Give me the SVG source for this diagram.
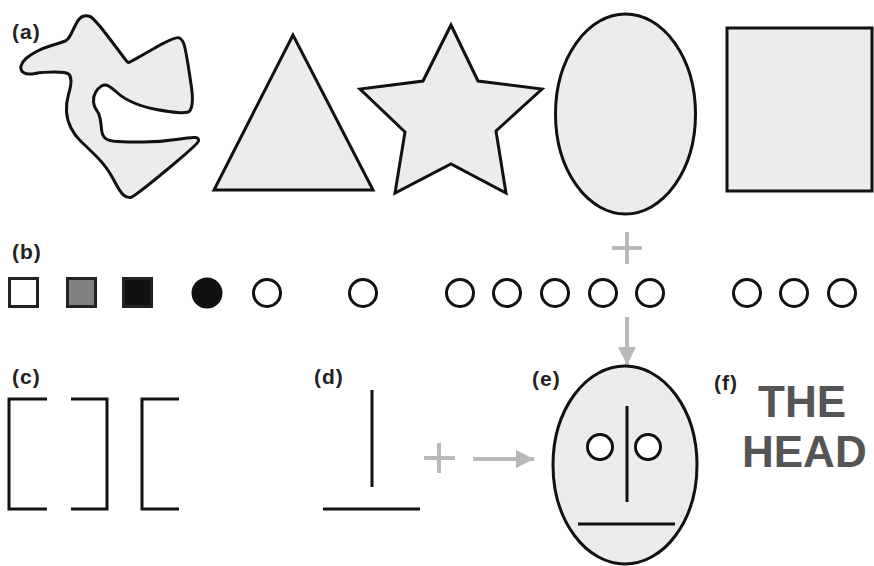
<svg xmlns="http://www.w3.org/2000/svg" width="874" height="566" viewBox="0 0 874 566">
<style>
.shape{fill:#ececec;stroke:#111;stroke-width:3;stroke-linejoin:miter}
.lbl{font-family:"Liberation Sans",Arial,sans-serif;font-weight:bold;font-size:21px;fill:#222;letter-spacing:1px}
.ring{fill:#fff;stroke:#111;stroke-width:3}
.ln{stroke:#111;stroke-width:3;fill:none}
.gray{stroke:#b9b9b9;stroke-width:4;fill:none}
.head{font-family:"Liberation Sans",Arial,sans-serif;font-weight:bold;font-size:44px;fill:#555}
</style>
<defs>
<marker id="ah" viewBox="0 0 10 10" refX="10" refY="5" markerWidth="6" markerHeight="4.5" markerUnits="strokeWidth" orient="auto">
<path d="M0,0 L10,5 L0,10 Z" fill="#b9b9b9"/>
</marker>
</defs>
<rect width="874" height="566" fill="#fff"/>

<g id="a">
<text class="lbl" x="12" y="39">(a)</text>
<path class="shape" stroke-linejoin="round" d="M82.5,16.5 Q86,15 90,16.5 Q94,18 109.5,38.5 Q125,59 126.5,61 Q128,63 130,62 Q132,61 154,48.5 Q176,36 179.5,38 Q183,40 184.5,46 Q186,52 188,64.5 Q190,77 191.5,87.5 Q193,98 192,104.5 Q191,111 188,112 Q185,113 177.5,112.5 Q170,112 156.5,109.5 Q143,107 133,102.5 Q123,98 117.5,93 Q112,88 108.5,86 Q105,84 101.5,86 Q98,88 95.5,92.5 Q93,97 93.5,102 Q94,107 96.5,110 Q99,113 100,118 Q101,123 101.5,129 Q102,135 105,138 Q108,141 117.5,141.5 Q127,142 143.5,142 Q160,142 176,139.5 Q192,137 195.5,137.5 Q199,138 198.5,141 Q198,144 166,170.5 Q134,197 130.5,197.5 Q127,198 123.5,195 Q120,192 113.5,179.5 Q107,167 97,157 Q87,147 81,141.5 Q75,136 71,128 Q67,120 66.5,111.5 Q66,103 68.5,94.5 Q71,86 71,81 Q71,76 68.5,74 Q66,72 54.5,72 Q43,72 35,73.5 Q27,75 23.5,72.5 Q20,70 21,66 Q22,62 26,58.5 Q30,55 36.5,51.5 Q43,48 51.5,45.5 Q60,43 64,41.5 Q68,40 70.5,35 Q73,30 76,24 Q79,18 82.5,16.5 Z"/>
</g>
<g id="triangle"><path class="shape" d="M293,35 L214,190 L373,190 Z"/></g>
<g id="star"><path class="shape" d="M451,25 L478,81 L542,89 L496,131 L506,193 L451,164 L395,193 L405,132 L360,89 L423,81 Z"/></g>
<g id="ellipse"><ellipse class="shape" cx="625.5" cy="114" rx="70" ry="100"/></g>
<g id="square"><rect class="shape" x="727" y="28" width="145" height="163"/></g>

<g id="b">
<text class="lbl" x="12" y="259">(b)</text>
<rect x="9.5" y="278.5" width="28" height="28" fill="#fff" stroke="#222" stroke-width="3"/>
<rect x="67.5" y="278.5" width="28" height="28" fill="#808080" stroke="#222" stroke-width="3"/>
<rect x="123.5" y="278.5" width="28" height="28" fill="#111" stroke="#222" stroke-width="3"/>
<circle cx="207" cy="293" r="15.5" fill="#111"/>
<circle class="ring" cx="267" cy="293" r="13.5"/>
<circle class="ring" cx="363" cy="293" r="13.5"/>
<circle class="ring" cx="460" cy="293" r="13.5"/>
<circle class="ring" cx="507" cy="293" r="13.5"/>
<circle class="ring" cx="555" cy="293" r="13.5"/>
<circle class="ring" cx="603" cy="293" r="13.5"/>
<circle class="ring" cx="650" cy="293" r="13.5"/>
<circle class="ring" cx="747" cy="293" r="13.5"/>
<circle class="ring" cx="794" cy="293" r="13.5"/>
<circle class="ring" cx="842" cy="293" r="13.5"/>
</g>

<g id="c">
<text class="lbl" x="12" y="384">(c)</text>
<path class="ln" d="M47,399 L9,399 L9,509 L47,509"/>
<path class="ln" d="M71,399 L107,399 L107,509 L71,509"/>
<path class="ln" d="M179,399 L142,399 L142,509 L179,509"/>
</g>

<g id="d">
<text class="lbl" x="314" y="384">(d)</text>
<line class="ln" x1="372" y1="390" x2="372" y2="487"/>
<line class="ln" x1="323" y1="509" x2="420" y2="509"/>
</g>

<g id="connectors">
<path class="gray" d="M612,248 L642,248 M627,232 L627,264"/>
<path class="gray" d="M424,458 L455,458 M439,443 L439,473"/>
<line class="gray" x1="473" y1="459" x2="534" y2="459" marker-end="url(#ah)"/>
<line class="gray" x1="627" y1="317" x2="627" y2="365" marker-end="url(#ah)"/>
</g>

<g id="e">
<text class="lbl" x="532" y="386">(e)</text>
<ellipse class="shape" cx="625" cy="465" rx="72" ry="99"/>
<circle class="ring" cx="600" cy="447" r="12.5" fill="none"/>
<circle class="ring" cx="648" cy="447" r="12.5" fill="none"/>
<line class="ln" x1="627" y1="406" x2="627" y2="502"/>
<line class="ln" x1="578" y1="524" x2="675" y2="524"/>
</g>

<g id="f">
<text class="lbl" x="714" y="390">(f)</text>
<text class="head" x="758" y="417">THE</text>
<text class="head" x="742" y="467">HEAD</text>
</g>
</svg>
